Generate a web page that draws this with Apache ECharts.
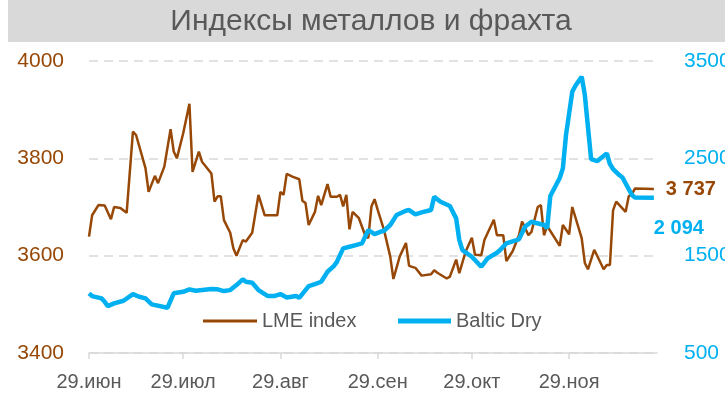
<!DOCTYPE html>
<html><head><meta charset="utf-8">
<script src="https://cdn.jsdelivr.net/npm/echarts@6/dist/echarts.min.js"></script>
<style>html,body{margin:0;padding:0;background:#fff}#c{width:725px;height:402px}</style>
</head><body><div id="c"></div>
<script>
// ---- data ----
const titleText = 'Индексы металлов и фрахта';
const monthNames = ['янв','фев','мар','апр','май','июн','июл','авг','сен','окт','ноя','дек'];
const axisStart = '06-29';
const axisEnd = '12-27';
const tickDay = 29;

const lmeName = 'LME index';
const lmeDates = ['06-29','06-30','07-02','07-04','07-06','07-07','07-09','07-11','07-13','07-14','07-17','07-18','07-20','07-21','07-23','07-25','07-26','07-27','07-29','07-31',
'08-01','08-03','08-04','08-07','08-08','08-09','08-10','08-11','08-13','08-14','08-15','08-17','08-18','08-20','08-22','08-24','08-28','08-29','08-30','08-31',
'09-02','09-04','09-05','09-06','09-07','09-09','09-10','09-11','09-13','09-14','09-16','09-17','09-18','09-19','09-20','09-21','09-23','09-25','09-26','09-27','09-28','09-29',
'10-01','10-03','10-04','10-06','10-08','10-09','10-11','10-13','10-16','10-17','10-18','10-21','10-22','10-24','10-25','10-27','10-29','10-30',
'11-01','11-02','11-05','11-06','11-08','11-09','11-11','11-13','11-14','11-15','11-16','11-17','11-19','11-20','11-21','11-22','11-26','11-27','11-29','11-30',
'12-03','12-04','12-05','12-07','12-10','12-11','12-12','12-13','12-14','12-17','12-18','12-19','12-20','12-26'];
const lmeValues = [3639,3683,3704,3703,3675,3700,3698,3688,3855,3848,3780,3731,3764,3749,3783,3860,3814,3800,3851,3912,
3772,3814,3793,3769,3711,3722,3722,3673,3647,3615,3600,3632,3629,3647,3725,3683,3683,3731,3725,3768,
3762,3757,3713,3708,3663,3690,3723,3704,3747,3721,3721,3725,3701,3725,3654,3690,3677,3642,3636,3701,3716,3694,
3653,3598,3552,3598,3626,3579,3575,3559,3562,3570,3565,3553,3557,3592,3564,3608,3637,3602,
3601,3632,3674,3642,3642,3589,3609,3642,3670,3657,3642,3649,3700,3704,3642,3661,3620,3663,3644,3700,
3636,3585,3572,3612,3572,3581,3581,3693,3711,3690,3722,3727,3738,3737];

const bdiName = 'Baltic Dry';
const bdiDates = ['06-29','06-30','07-03','07-04','07-05','07-07','07-10','07-13','07-15','07-17','07-19','07-24','07-26','07-29','07-31',
'08-02','08-07','08-09','08-11','08-13','08-15','08-17','08-18','08-20','08-22','08-25','08-27','08-29','08-31',
'09-03','09-04','09-07','09-09','09-11','09-13','09-15','09-16','09-18','09-20','09-22','09-24','09-26','09-28','09-30',
'10-01','10-03','10-05','10-08','10-09','10-11','10-13','10-16','10-17','10-19','10-22','10-24','10-25','10-26','10-29',
'11-01','11-03','11-06','11-07','11-09','11-13','11-15','11-17','11-21','11-22','11-23','11-26','11-27','11-28','11-30',
'12-01','12-03','12-04','12-06','12-08','12-11','12-12','12-13','12-15','12-16','12-19','12-20','12-26'];
const bdiValues = [1113,1085,1061,1026,982,1010,1037,1105,1078,1061,1000,965,1113,1129,1154,
1140,1157,1154,1136,1146,1198,1257,1232,1222,1147,1085,1085,1105,1071,
1085,1067,1188,1208,1232,1335,1393,1437,1575,1592,1609,1626,1763,1722,1746,
1756,1815,1917,1962,1969,1925,1945,1969,2105,2054,2010,1883,1660,1557,1489,
1386,1472,1530,1558,1626,1668,1800,1848,1815,1781,2113,2298,2397,2740,3184,
3246,3339,3151,2493,2472,2551,2441,2390,2328,2303,2123,2097,2094];

const leftMin = 3400, leftMax = 4000, leftStep = 200;
const rightMin = 500, rightMax = 3500, rightStep = 1000;

// ---- build calendar categories ----
const categories = [];
(function(){
  const y = 2021;
  const [sm, sd] = axisStart.split('-').map(Number);
  const [em, ed] = axisEnd.split('-').map(Number);
  let t = Date.UTC(y, sm - 1, sd);
  const tEnd = Date.UTC(y, em - 1, ed);
  while (t <= tEnd) {
    const d = new Date(t);
    const mm = String(d.getUTCMonth() + 1).padStart(2, '0');
    const dd = String(d.getUTCDate()).padStart(2, '0');
    categories.push(mm + '-' + dd);
    t += 86400000;
  }
})();
const isTick = (v) => Number(v.split('-')[1]) === tickDay;
const fmtLabel = (v) => { const [m, d] = v.split('-'); return d + '.' + monthNames[Number(m) - 1]; };
const fmtNum = (n) => String(n).replace(/\B(?=(\d{3})+(?!\d))/g, ' ');

const BROWN = '#974806', CYAN = '#00B0F0', GREY = '#595959', LIGHT = '#d9d9d9';
const FONT = "'Liberation Sans', Arial, sans-serif";

const chart = echarts.init(document.getElementById('c'));
chart.setOption({
  animation: false,
  textStyle: { fontFamily: FONT },
  graphic: [
    { type: 'rect', shape: { x: 8, y: 0, width: 717, height: 42 }, style: { fill: LIGHT }, silent: true },
    { type: 'text', x: 371, y: 22, style: { text: titleText, fill: GREY, fontSize: 30, fontFamily: FONT, textAlign: 'center', textVerticalAlign: 'middle' } }
  ],
  grid: { left: 89, right: 68, top: 61, bottom: 49, containLabel: false, outerBoundsMode: 'none' },
  legend: [
    { data: [lmeName], left: 203, top: 311, padding: 0, icon: 'rect', itemWidth: 54, itemHeight: 3,
      textStyle: { color: GREY, fontSize: 20, fontFamily: FONT } },
    { data: [bdiName], left: 398, top: 311, padding: 0, icon: 'rect', itemWidth: 53, itemHeight: 5,
      textStyle: { color: GREY, fontSize: 20, fontFamily: FONT } }
  ],
  xAxis: {
    type: 'category', data: categories, boundaryGap: false,
    axisLine: { lineStyle: { color: LIGHT, width: 1.5 } },
    axisTick: { interval: (i, v) => isTick(v), length: 6, lineStyle: { color: LIGHT, width: 1.5 } },
    axisLabel: { interval: (i, v) => isTick(v), formatter: fmtLabel, color: GREY, fontSize: 20, margin: 19, fontFamily: FONT },
    splitLine: { show: false }
  },
  yAxis: [
    { type: 'value', min: leftMin, max: leftMax, interval: leftStep,
      axisLine: { show: false }, axisTick: { show: false },
      axisLabel: { color: BROWN, fontSize: 21, margin: 25, fontFamily: FONT, formatter: (v) => String(v) },
      splitLine: { show: true, lineStyle: { color: LIGHT, width: 1.5, type: [9, 6] } } },
    { type: 'value', min: rightMin, max: rightMax, interval: rightStep, position: 'right',
      axisLine: { show: false }, axisTick: { show: false },
      axisLabel: { color: CYAN, fontSize: 21, margin: 27, fontFamily: FONT, formatter: (v) => String(v) },
      splitLine: { show: false } }
  ],
  series: [
    { name: lmeName, type: 'line', yAxisIndex: 0, showSymbol: false, symbol: 'none',
      data: lmeDates.map((d, i) => [d, lmeValues[i]]),
      lineStyle: { color: BROWN, width: 2.5 }, itemStyle: { color: BROWN },
      endLabel: { show: true, distance: 12, formatter: (p) => fmtNum(p.value[1]), color: BROWN, fontSize: 20, fontWeight: 'bold', fontFamily: FONT } },
    { name: bdiName, type: 'line', yAxisIndex: 1, showSymbol: false, symbol: 'none',
      data: bdiDates.map((d, i) => [d, bdiValues[i]]),
      lineStyle: { color: CYAN, width: 4.5 }, itemStyle: { color: CYAN },
      endLabel: { show: true, distance: 0, offset: [0, 31], formatter: (p) => fmtNum(p.value[1]), color: CYAN, fontSize: 20, fontWeight: 'bold', fontFamily: FONT } }
  ]
});
</script></body></html>
